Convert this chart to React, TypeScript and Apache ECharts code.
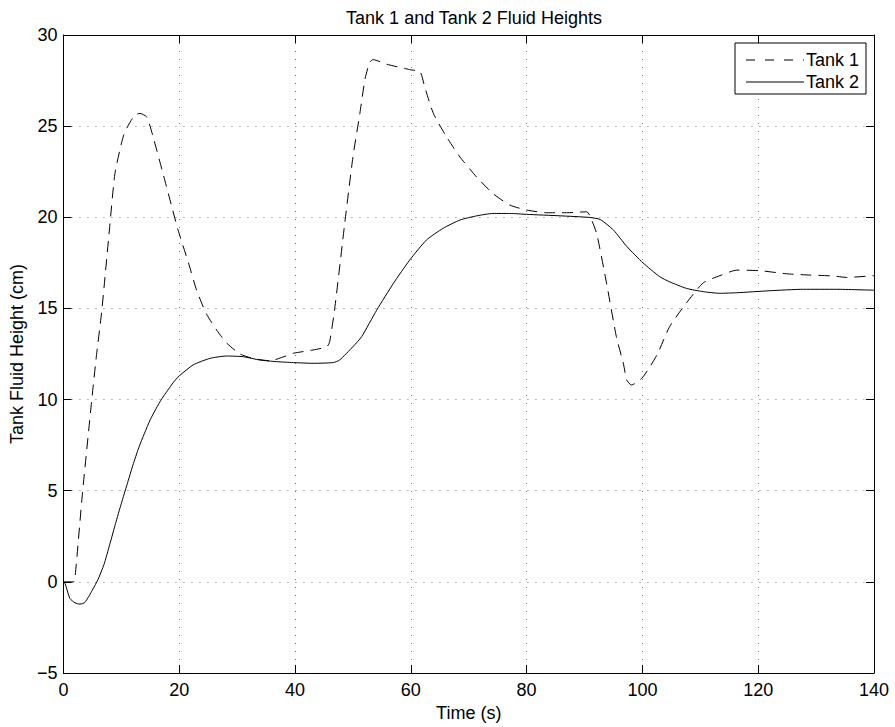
import React, { useEffect, useRef } from "react";
import * as echarts from "echarts";

// Simulated fluid heights (cm) against time (s), [t, h] pairs
const tank1: [number, number][] = [
  [0, 0], [1.8, 0], [2.0, 0.2], [3.3, 4.9], [4.9, 10.0], [5.7, 12.4], [6.6, 14.8],
  [8.0, 19.5], [8.9, 22.4], [10.3, 24.4], [11.2, 25.05], [12.35, 25.6], [13.2, 25.7],
  [14.4, 25.5], [15.5, 24.4], [17.2, 22.4], [18.7, 20.6], [19.8, 19.3], [21.6, 17.5],
  [23, 16], [24.7, 14.7], [26.5, 13.8], [28.2, 13.1], [30.5, 12.5], [32.8, 12.25],
  [35.7, 12.13], [38.5, 12.4], [39.7, 12.54], [43.1, 12.72], [45.5, 12.9], [46, 13.2],
  [46.9, 15.1], [48.6, 19.7], [50, 23.3], [51.2, 25.7], [52.1, 27.6], [52.9, 28.5],
  [53.5, 28.65], [55.8, 28.4], [59.8, 28.1], [61.6, 27.98], [62.4, 27.15], [63.9, 25.7],
  [66.2, 24.4], [68.5, 23.3], [71.4, 22.2], [74.2, 21.3], [77.1, 20.67], [80, 20.4],
  [83.5, 20.25], [86.9, 20.25], [90.4, 20.3], [90.9, 20.1], [92.1, 19.1], [93.8, 16.4],
  [95.5, 13.45], [96.7, 12.0], [97.3, 11.07], [98.1, 10.8], [99.9, 11.17], [101.3, 11.8],
  [102.6, 12.5], [104.7, 14], [107.6, 15.3], [110.5, 16.4], [113.4, 16.8], [116.3, 17.1],
  [120.3, 17.07], [124.9, 16.9], [128.9, 16.83], [133, 16.78], [135.3, 16.7], [140, 16.8],
];

const tank2: [number, number][] = [
  [0, 0], [0.3, -0.1], [1.1, -0.9], [2.0, -1.15], [2.85, -1.22], [3.7, -1.13],
  [5, -0.45], [6, 0.15], [7, 0.95], [8, 2.05], [9, 3.2], [10, 4.3], [11, 5.35],
  [12, 6.4], [13, 7.35], [14, 8.15], [15, 8.9], [16, 9.5], [17, 10.05], [18, 10.5],
  [19, 10.95], [20, 11.3], [22.4, 11.9], [25.3, 12.26],
  [28.2, 12.39], [31.1, 12.35], [33.9, 12.17], [36.8, 12.08], [39.7, 12.03],
  [43.1, 11.99], [46.6, 12.03], [47.7, 12.17], [50, 12.9], [51.5, 13.45], [54.1, 14.9],
  [57, 16.38], [59.8, 17.65], [62.7, 18.75], [65.6, 19.4], [68.5, 19.85], [71.4, 20.08],
  [74.2, 20.21], [77.1, 20.21], [80, 20.16], [85.8, 20.08], [90.9, 19.99], [92.7, 19.88],
  [95, 19.3], [97.3, 18.4], [100.1, 17.5], [103, 16.74], [104.7, 16.46], [107.6, 16.1],
  [110.5, 15.92], [113.4, 15.83], [116.3, 15.86], [122, 15.97], [127.8, 16.05],
  [133.5, 16.05], [140, 16.0],
];

const seriesNames = ["Tank 1", "Tank 2"];
const xRange = { min: 0, max: 140, interval: 20 };
const yRange = { min: -5, max: 30, interval: 5 };

const FONT = "'Liberation Sans', Arial, Helvetica, sans-serif";
const FS = 18;

export default function App() {
  const ref = useRef<HTMLDivElement>(null);

  useEffect(() => {
    if (!ref.current) return;
    const chart = echarts.init(ref.current, undefined, { renderer: "svg" });

    const gridLine = { show: true, lineStyle: { color: "#777", width: 1, type: [1, 7] as any } };
    const axisLine = { show: true, onZero: false, lineStyle: { color: "#000", width: 1 } };
    const tick = { show: true, inside: true, length: 8, lineStyle: { color: "#000", width: 1 } };
    const label = { color: "#000", fontSize: FS, fontFamily: FONT };

    // Boxed legend in the upper-right corner of the axes
    const legendBox = { x: 735, y: 43, w: 131, h: 51 };
    const rowY = [60, 82];
    const legendGraphics: any[] = [
      {
        type: "rect",
        shape: { x: legendBox.x, y: legendBox.y, width: legendBox.w, height: legendBox.h },
        style: { fill: "#fff", stroke: "#000", lineWidth: 1 },
        z: 10,
      },
      {
        type: "line",
        shape: { x1: 746, y1: rowY[0], x2: 804, y2: rowY[0] },
        style: { stroke: "#000", lineWidth: 1, lineDash: [9, 10] },
        z: 11,
      },
      {
        type: "line",
        shape: { x1: 746, y1: rowY[1], x2: 804, y2: rowY[1] },
        style: { stroke: "#000", lineWidth: 1 },
        z: 11,
      },
      ...seriesNames.map((name, i) => ({
        type: "text",
        x: 806,
        y: rowY[i],
        style: {
          text: name,
          fill: "#000",
          fontSize: FS,
          fontFamily: FONT,
          textVerticalAlign: "middle",
          textAlign: "left",
        },
        z: 11,
      })),
    ];

    chart.setOption({
      animation: false,
      backgroundColor: "#fff",
      title: {
        text: "Tank 1 and Tank 2 Fluid Heights",
        left: 469,
        top: 4,
        textAlign: "center",
        textStyle: { color: "#000", fontSize: FS, fontWeight: "normal", fontFamily: FONT },
      },
      graphic: legendGraphics,
      grid: { left: 63, right: 21, top: 35, bottom: 54 },
      xAxis: [
        {
          type: "value",
          ...xRange,
          position: "bottom",
          name: "Time (s)",
          nameLocation: "middle",
          nameGap: 28,
          nameTextStyle: { color: "#000", fontSize: FS, fontFamily: FONT },
          axisLine,
          axisTick: tick,
          axisLabel: { ...label, margin: 8 },
          splitLine: gridLine,
        },
        {
          type: "value",
          ...xRange,
          position: "top",
          axisLine,
          axisTick: tick,
          axisLabel: { show: false },
          splitLine: { show: false },
        },
      ],
      yAxis: [
        {
          type: "value",
          ...yRange,
          position: "left",
          name: "Tank Fluid Height (cm)",
          nameLocation: "middle",
          nameGap: 35,
          nameTextStyle: { color: "#000", fontSize: FS, fontFamily: FONT },
          axisLine,
          axisTick: tick,
          axisLabel: {
            ...label,
            margin: 6,
            formatter: (v: number) => String(v).replace("-", "\u2212"),
          },
          splitLine: gridLine,
        },
        {
          type: "value",
          ...yRange,
          position: "right",
          axisLine,
          axisTick: tick,
          axisLabel: { show: false },
          splitLine: { show: false },
        },
      ],
      series: [
        {
          name: seriesNames[0],
          type: "line",
          data: tank1,
          showSymbol: false,
          symbol: "none",
          smooth: 0.2,
          lineStyle: { color: "#000", width: 1, type: [11, 7] },
          z: 3,
        },
        {
          name: seriesNames[1],
          type: "line",
          data: tank2,
          showSymbol: false,
          symbol: "none",
          smooth: 0.2,
          lineStyle: { color: "#000", width: 1, type: "solid" },
          z: 3,
        },
      ],
    });

    return () => chart.dispose();
  }, []);

  return (
    <div
      ref={ref}
      style={{ position: "absolute", left: 0, top: 0, width: 895, height: 727 }}
    />
  );
}
